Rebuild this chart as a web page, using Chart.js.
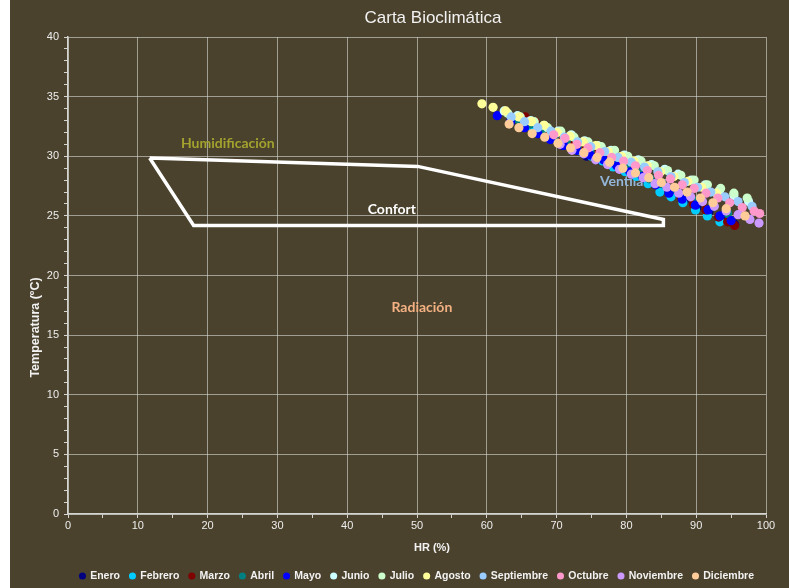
<!DOCTYPE html>
<html>
<head>
<meta charset="utf-8">
<title>Carta Bioclimática</title>
<script src="https://cdn.jsdelivr.net/npm/chart.js@4.4.1/dist/chart.umd.min.js"></script>
<style>
  html, body { margin: 0; padding: 0; background: #ffffff; }
  #wrap { width: 789px; height: 588px; position: relative; }
</style>
</head>
<body>
<div id="wrap"><canvas id="chart" width="789" height="588"></canvas></div>
<script>
// Monthly hourly readings: [humedad relativa (%), temperatura (ºC)]
const months = ['Enero', 'Febrero', 'Marzo', 'Abril', 'Mayo', 'Junio', 'Julio', 'Agosto', 'Septiembre', 'Octubre', 'Noviembre', 'Diciembre'];
const monthColors = ['#000080', '#00CCFF', '#800000', '#008080', '#0000FF', '#CCFFFF', '#CCFFCC', '#FFFF99', '#99CCFF', '#FF99CC', '#CC99FF', '#FFCC99'];

const enero = [[63.5,33.0],[65.2,32.6],[67.4,31.9],[69.0,31.6],[70.9,30.9],[72.6,30.6],[74.3,30.0],[76.1,29.7],[77.8,29.3],[79.6,28.8],[81.2,28.4],[83.0,27.9],[84.9,27.2],[86.5,26.7],[88.3,26.3],[90.1,25.7],[91.8,25.3],[93.6,24.8],[95.5,24.3]];
const febrero = [[66.5,32.5],[68.2,32.0],[70.0,31.5],[71.6,31.1],[73.3,30.5],[75.0,30.0],[76.6,29.6],[78.1,29.1],[79.8,28.7],[81.4,28.3],[83.1,27.7],[84.8,27.0],[86.4,26.6],[88.1,26.1],[89.9,25.5],[91.6,25.0],[93.4,24.5]];
const marzo = [[65.5,33.3],[66.9,32.9],[68.6,32.3],[70.4,31.8],[72.1,31.3],[73.9,30.8],[75.6,30.3],[77.4,29.9],[79.1,29.4],[80.9,28.9],[82.6,28.3],[84.4,27.7],[86.1,27.0],[87.9,26.5],[89.6,26.0],[91.4,25.5],[93.2,24.9],[94.5,24.5],[95.5,24.2]];
const abril = [[64.5,33.1],[66.2,32.7],[67.9,32.2],[69.7,31.7],[71.4,31.3],[73.0,30.9],[74.8,30.4],[76.5,29.9],[78.2,29.5],[80.0,29.0],[81.7,28.6],[83.4,28.1],[85.1,27.7],[86.9,27.2],[88.6,26.8],[90.3,26.3],[92.4,25.8],[94.5,25.2]];
const mayo = [[61.5,33.4],[63.4,32.9],[65.4,32.4],[67.3,31.9],[69.1,31.4],[71.0,30.9],[72.9,30.5],[74.8,30.1],[76.7,29.7],[78.6,29.2],[80.5,28.7],[82.3,28.3],[84.2,27.6],[86.1,26.9],[88.0,26.4],[89.9,25.9],[91.7,25.5],[93.4,25.0],[95.0,24.6]];
const junio = [[62.5,33.8],[64.4,33.4],[66.3,33.0],[68.2,32.6],[70.2,32.1],[72.1,31.8],[74.0,31.3],[75.9,30.9],[77.8,30.5],[79.7,30.1],[81.7,29.7],[83.6,29.3],[85.5,28.9],[87.4,28.5],[89.3,28.0],[91.3,27.6],[93.3,27.1],[95.4,26.7],[97.5,26.2]];
const julio = [[63.0,33.6],[64.8,33.3],[66.8,32.9],[68.7,32.4],[70.6,32.1],[72.5,31.6],[74.5,31.2],[76.4,30.8],[78.3,30.5],[80.2,30.0],[82.1,29.6],[84.0,29.2],[85.9,28.8],[87.8,28.4],[89.7,28.0],[91.6,27.6],[93.5,27.3],[95.4,26.9],[97.3,26.5]];
const agosto = [[59.3,34.4],[60.9,34.1],[62.7,33.8],[64.6,33.3],[66.4,32.9],[68.2,32.6],[70.1,32.0],[71.9,31.7],[73.8,31.2],[75.6,30.9],[77.4,30.4],[79.3,30.0],[81.1,29.6],[83.0,29.2],[84.9,28.7],[86.8,28.3],[88.8,27.9],[90.8,27.4],[92.9,26.9]];
const septiembre = [[63.5,33.3],[65.4,32.9],[67.3,32.4],[69.2,32.1],[71.1,31.6],[73.0,31.2],[74.9,30.8],[76.9,30.4],[78.8,29.9],[80.7,29.5],[82.6,29.1],[84.5,28.7],[86.4,28.3],[88.3,27.8],[90.2,27.4],[92.1,27.0],[94.1,26.6],[96.0,26.2],[98.0,25.8]];
const octubre = [[69.6,31.8],[71.2,31.5],[72.9,31.0],[74.5,30.7],[76.2,30.3],[77.9,29.9],[79.6,29.6],[81.3,29.2],[83.0,28.8],[84.6,28.4],[86.3,28.1],[88.0,27.6],[89.7,27.3],[91.4,26.9],[93.1,26.5],[94.8,26.1],[96.6,25.7],[98.3,25.4],[99.1,25.2]];
const noviembre = [[70.5,31.0],[72.2,30.5],[73.9,30.2],[75.6,29.7],[77.3,29.3],[79.0,28.9],[80.7,28.5],[82.4,28.2],[84.1,27.7],[85.8,27.4],[87.5,26.9],[89.2,26.6],[90.9,26.2],[92.6,25.8],[94.3,25.4],[96.0,25.1],[97.7,24.7],[99.0,24.4]];
const diciembre = [[63.2,32.7],[64.6,32.4],[66.5,31.9],[68.3,31.6],[70.2,31.1],[72.0,30.7],[73.9,30.3],[75.8,29.9],[77.6,29.5],[79.5,29.0],[81.3,28.6],[83.2,28.2],[85.0,27.8],[86.9,27.4],[88.7,27.0],[90.6,26.5],[92.4,26.1],[94.3,25.6],[97.0,25.0]];

const monthSeries = [enero, febrero, marzo, abril, mayo, junio, julio, agosto, septiembre, octubre, noviembre, diciembre];

// Comfort zone outline (HR %, ºC)
const confortZone = [[11.7,29.85],[50.1,29.15],[85.3,24.7],[85.3,24.2],[18.0,24.2],[11.7,29.85]];

// Zone names and where they sit on the chart (HR %, ºC)
const zoneLabels = [
  { text: 'Humidificación', hr: 22.9, t: 31.1, color: '#A3A22E' },
  { text: 'Confort',        hr: 46.4, t: 25.5, color: '#FFFFFF' },
  { text: 'Ventilación',    hr: 81.2, t: 27.9, color: '#93B6DA' },
  { text: 'Radiación',      hr: 50.7, t: 17.3, color: '#F4B183' }
];

const xTickStep = 5, xLabelStep = 10;
const yTickStep = 1, yLabelStep = 5;

const BG = '#4A422D';
const GRID = 'rgba(220,220,215,0.6)';
const AXIS = '#D4D4D0';
const TEXT = '#EDEDED';
const SANS = "'Liberation Sans', Arial, sans-serif";

const toPoints = arr => arr.map(([x, y]) => ({ x, y }));

const datasets = monthSeries.map((s, i) => ({
  label: months[i],
  data: toPoints(s),
  backgroundColor: monthColors[i],
  borderColor: monthColors[i],
  borderWidth: 0,
  pointRadius: 4.6,
  pointHoverRadius: 4.6,
  order: months.length - i
}));

datasets.push({
  type: 'line',
  label: 'Confort',
  data: toPoints(confortZone),
  borderColor: '#FFFFFF',
  borderWidth: 3.5,
  pointRadius: 0,
  fill: false,
  tension: 0,
  showLine: true,
  borderJoinStyle: 'miter',
  order: months.length + 1
});

// Panel background (the page stays white on the left margin)
const panelBackground = {
  id: 'panelBackground',
  beforeDraw(chart) {
    const { ctx, width, height } = chart;
    ctx.save();
    ctx.fillStyle = BG;
    ctx.fillRect(10, 0, width - 10, height);
    ctx.restore();
  }
};

// Zone names sit under the points; title and axis titles on top
const chartTexts = {
  id: 'chartTexts',
  beforeDatasetsDraw(chart) {
    const { ctx, scales: { x, y } } = chart;
    ctx.save();
    ctx.font = "bold 14px Lato, 'Open Sans', sans-serif";
    ctx.textAlign = 'center';
    ctx.textBaseline = 'middle';
    zoneLabels.forEach(l => {
      ctx.fillStyle = l.color;
      ctx.fillText(l.text, x.getPixelForValue(l.hr), y.getPixelForValue(l.t));
    });
    ctx.restore();
  },
  afterDraw(chart) {
    const { ctx, chartArea: a } = chart;
    ctx.save();
    ctx.fillStyle = '#F2F2F2';
    ctx.textAlign = 'center';
    ctx.textBaseline = 'middle';
    ctx.font = '17px ' + SANS;
    ctx.fillText('Carta Bioclimática', (a.left + a.right) / 2 + 16, 18);
    ctx.font = 'bold 11px ' + SANS;
    ctx.fillText('HR (%)', (a.left + a.right) / 2 + 15, a.bottom + 34);
    ctx.font = 'bold 12.5px ' + SANS;
    ctx.translate(36, (a.top + a.bottom) / 2 + 52);
    ctx.rotate(-Math.PI / 2);
    ctx.fillText('Temperatura (ºC)', 0, 0);
    ctx.restore();
  }
};

new Chart(document.getElementById('chart'), {
  type: 'scatter',
  data: { datasets },
  plugins: [panelBackground, chartTexts],
  options: {
    responsive: false,
    devicePixelRatio: 1,
    animation: false,
    layout: { padding: { left: 10, right: 23, top: 37, bottom: -3.25 } },
    scales: {
      x: {
        type: 'linear',
        min: 0, max: 100,
        afterFit(scale) { scale.height = 46.75; },
        ticks: {
          stepSize: xTickStep,
          autoSkip: false,
          maxRotation: 0,
          padding: 1,
          color: TEXT,
          font: { family: SANS, size: 11 },
          callback: v => (v % xLabelStep === 0 ? v : '')
        },
        grid: {
          color: c => (c.tick && c.tick.value % xLabelStep === 0 ? GRID : 'rgba(0,0,0,0)'),
          tickColor: AXIS,
          tickLength: 4,
          lineWidth: 1
        },
        border: { color: AXIS, width: 1.5 }
      },
      y: {
        type: 'linear',
        min: 0, max: 40,
        afterFit(scale) { scale.width = 58; },
        ticks: {
          stepSize: yTickStep,
          autoSkip: false,
          padding: 5,
          color: TEXT,
          font: { family: SANS, size: 11 },
          callback: v => (v % yLabelStep === 0 ? v : '')
        },
        grid: {
          color: c => (c.tick && c.tick.value % yLabelStep === 0 ? GRID : 'rgba(0,0,0,0)'),
          tickColor: AXIS,
          tickLength: 4,
          lineWidth: 1
        },
        border: { color: AXIS, width: 1.5 }
      }
    },
    plugins: {
      title: { display: false },
      tooltip: { enabled: false },
      legend: {
        position: 'bottom',
        fullSize: false,
        labels: {
          usePointStyle: true,
          pointStyle: 'circle',
          boxWidth: 5,
          boxHeight: 5,
          padding: 10,
          color: '#F2F2F2',
          font: { family: SANS, size: 10.5, weight: 'bold' },
          filter: item => item.datasetIndex < months.length,
          sort: (a, b) => a.datasetIndex - b.datasetIndex
        }
      }
    }
  }
});
</script>
</body>
</html>
